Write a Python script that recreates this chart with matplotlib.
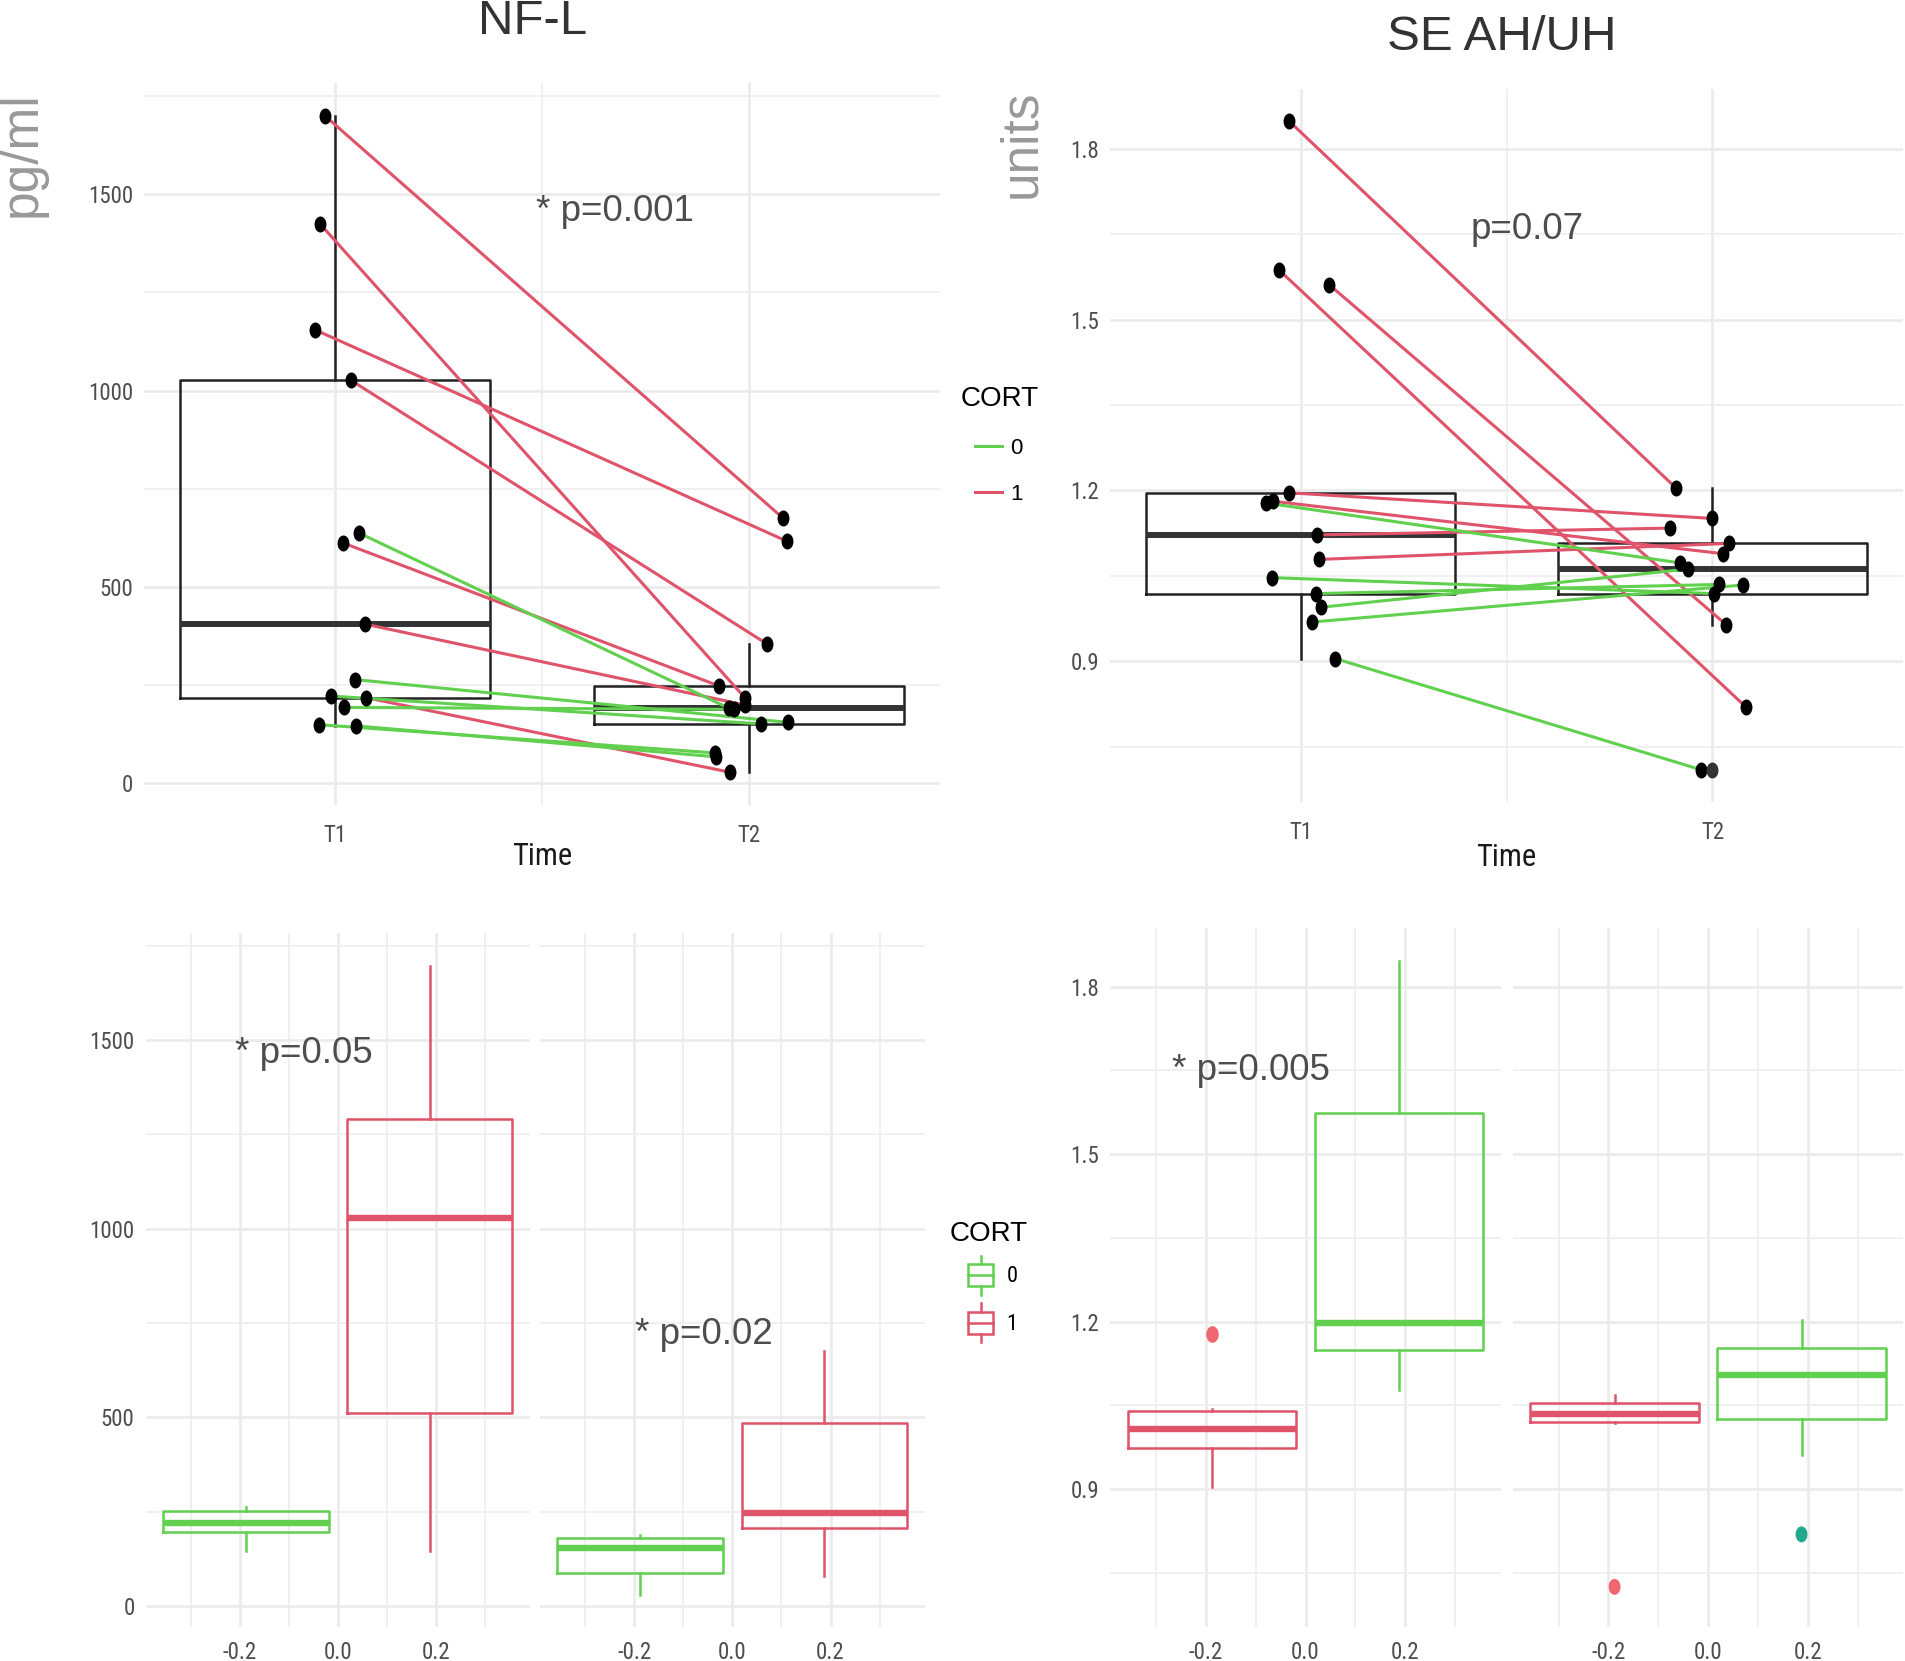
import matplotlib
matplotlib.use("Agg")
import matplotlib.pyplot as plt
from matplotlib import font_manager
from matplotlib.font_manager import FontProperties
from matplotlib.lines import Line2D
from matplotlib.patches import Patch, Rectangle
from matplotlib.legend_handler import HandlerBase
from matplotlib.path import Path

# ---------------- data ----------------
cort = [1, 1, 1, 1, 1, 1, 1, 0, 0, 0, 0, 0, 0]

# NF-L (pg/ml), paired T1 -> T2, x = jittered time position
nfl_t1 = [1700, 1425, 1155, 1027, 612, 405, 218, 637, 264, 222, 193, 149, 146]
nfl_t1_x = [0.975, 0.963, 0.951, 1.037, 1.019, 1.073, 1.074, 1.058, 1.047, 0.990, 1.020, 0.961, 1.050]
nfl_t2 = [675, 216, 616, 354, 248, 199, 28, 191, 155, 151, 188, 77, 67]
nfl_t2_x = [2.083, 1.992, 2.093, 2.045, 1.927, 1.992, 1.954, 1.952, 2.094, 2.030, 1.964, 1.919, 1.922]

# SE AH/UH (units)
se_t1 = [1.848, 1.587, 1.561, 1.196, 1.181, 1.122, 1.079, 1.178, 1.047, 1.019, 0.995, 0.969, 0.905]
se_t1_x = [0.973, 0.948, 1.070, 0.971, 0.934, 1.041, 1.045, 0.917, 0.930, 1.037, 1.050, 1.027, 1.084]
se_t2 = [1.204, 0.820, 0.964, 1.151, 1.089, 1.134, 1.107, 1.073, 1.019, 1.035, 1.062, 1.034, 0.710]
se_t2_x = [1.912, 2.081, 2.034, 1.998, 2.026, 1.898, 2.040, 1.920, 2.004, 2.016, 1.940, 2.073, 1.971]
se_extra_x = [1.998]
se_extra_y = [0.710]

# group boxplots: whislo, q1, med, q3, whishi
nfl_t1_cort0 = [146, 196, 221, 252, 262]
nfl_t1_cort1 = [145, 511, 1027, 1291, 1697]
nfl_t2_cort0 = [28, 87, 153, 181, 189]
nfl_t2_cort1 = [79, 206, 246, 486, 675]
se_t1_cort1 = [0.904, 0.973, 1.007, 1.040, 1.044]
se_t1_cort0 = [1.078, 1.150, 1.198, 1.574, 1.846]
se_t2_cort1 = [1.019, 1.021, 1.034, 1.055, 1.069]
se_t2_cort0 = [0.962, 1.025, 1.105, 1.152, 1.202]
se_t1_out_x = [-0.1875]
se_t1_out_y = [1.178]
se_t2_out_x = [-0.1875, 0.1875]
se_t2_out_y = [0.725, 0.819]

GREEN = "#61D04F"
RED = "#DF536B"
col = {0: GREEN, 1: RED}


def pick_condensed():
    best = None
    for f in font_manager.fontManager.ttflist:
        n = f.name
        cond = ("Narrow" in n) or ("Condensed" in n) or (str(f.stretch) in ("condensed", "semi-condensed", "extra-condensed"))
        if not cond or f.style != "normal" or f.weight not in (400, "normal", "regular", "book"):
            continue
        if "Mono" in n or "Serif" in n:
            continue
        rank = 0 if "Liberation" in n else 1 if "Roboto" in n else 2 if "Open Sans" in n else 3 if "Noto Sans" in n else 4
        if best is None or rank < best[0]:
            best = (rank, f.fname)
    return best[1] if best else None


cond_file = pick_condensed()
SANS = ["Liberation Sans", "DejaVu Sans"]
plt.rcParams["font.family"] = SANS


def nfont(size):
    if cond_file:
        return FontProperties(fname=cond_file, size=size)
    return FontProperties(family=SANS, size=size * 0.92)


TICK = nfont(16.5)

W, H = 1905, 1661
fig = plt.figure(figsize=(W / 100, H / 100), dpi=100)

uc = Path.unit_circle()
ell = Path(uc.vertices * [0.72, 1.0], uc.codes)


def add_ax(l, t, r, b):
    return fig.add_axes([l / W, 1 - b / H, (r - l) / W, (b - t) / H])


def style(ax, xmaj, xmin, ymaj, ymin, xlabs, ylabs, xpad, ypad):
    for s in ax.spines.values():
        s.set_visible(False)
    ax.set_xticks(xmaj)
    ax.set_xticks(xmin, minor=True)
    ax.set_yticks(ymaj)
    ax.set_yticks(ymin, minor=True)
    ax.set_xticklabels(xlabs, fontproperties=TICK, color="#4D4D4D")
    ax.set_yticklabels(ylabs, fontproperties=TICK, color="#4D4D4D")
    ax.grid(which="major", color="#EBEBEB", lw=1.9)
    ax.grid(which="minor", color="#EEEEEE", lw=1.2)
    ax.set_axisbelow(True)
    ax.tick_params(which="both", length=0)
    ax.tick_params(axis="x", pad=xpad)
    ax.tick_params(axis="y", pad=ypad)


def paired(ax, t1, t1x, t2, t2x, ylim, ymaj, ymin, ylabfmt, top, bottom):
    ax.set_xlim(0.5375, 2.4625)
    ax.set_ylim(*ylim)
    ax.boxplot([t1, t2], positions=[1, 2], widths=0.75, showfliers=False,
               showcaps=False, manage_ticks=False,
               boxprops=dict(color="#222222", lw=1.8),
               whiskerprops=dict(color="#222222", lw=1.8),
               medianprops=dict(color="#333333", lw=4.3))
    for a, ax1, b, bx, c in zip(t1, t1x, t2, t2x, cort):
        ax.plot([ax1, bx], [a, b], color=col[c], lw=2.2, zorder=3)
    ax.plot(t1x, t1, ls="none", marker=ell, ms=10.5, color="black", zorder=4)
    ax.plot(t2x, t2, ls="none", marker=ell, ms=10.5, color="black", zorder=4)
    style(ax, [1, 2], [1.5], ymaj, ymin, ["T1", "T2"], [ylabfmt(v) for v in ymaj], 13.5, 8)
    ax.set_xlabel("Time", fontproperties=nfont(22), color="#1A1A1A", va="center")
    ax.xaxis.set_label_coords(0.5, (bottom - 857) / (bottom - top))


def facet(ax, stats, colors, ylim, ymaj, ymin, ylabfmt, show_y):
    ax.set_xlim(-0.3919, 0.3919)
    ax.set_ylim(*ylim)
    for st, pos, c in zip(stats, [-0.1875, 0.1875], colors):
        d = dict(zip(["whislo", "q1", "med", "q3", "whishi"], st))
        ax.bxp([d], positions=[pos], widths=0.3375, showfliers=False, showcaps=False,
               manage_ticks=False,
               boxprops=dict(color=c, lw=1.8), whiskerprops=dict(color=c, lw=1.8),
               medianprops=dict(color=c, lw=4.6))
    ylabs = [ylabfmt(v) for v in ymaj] if show_y else [""] * len(ymaj)
    style(ax, [-0.2, 0.0, 0.2], [-0.3, -0.1, 0.1, 0.3], ymaj, ymin, ["-0.2", "0.0", "0.2"], ylabs, 10, 8)


ptxt = dict(fontsize=26.5, color="#4D4D4D", ha="center", va="center", family=SANS)

nfl_lo, nfl_hi = min(nfl_t2), max(nfl_t1)
nfl_lim = (nfl_lo - 0.05 * (nfl_hi - nfl_lo), nfl_hi + 0.05 * (nfl_hi - nfl_lo))
se_lo, se_hi = min(se_t2), max(se_t1)
se_lim = (se_lo - 0.05 * (se_hi - se_lo), se_hi + 0.05 * (se_hi - se_lo))

nfl_maj = [0, 500, 1000, 1500]
nfl_min = [250, 750, 1250, 1750]
se_maj = [0.9, 1.2, 1.5, 1.8]
se_min = [0.75, 1.05, 1.35, 1.65]
fmt_i = lambda v: f"{v:d}"
fmt_f = lambda v: f"{v:.1f}"

# top-left
ax = add_ax(144, 83, 940, 805)
paired(ax, nfl_t1, nfl_t1_x, nfl_t2, nfl_t2_x, nfl_lim, nfl_maj, nfl_min, fmt_i, 83, 805)
ax.text(1.677, 1456, "* p=0.001", **ptxt)

# top-right
ax = add_ax(1110, 89, 1903, 802)
paired(ax, se_t1, se_t1_x, se_t2, se_t2_x, se_lim, se_maj, se_min, fmt_f, 89, 802)
ax.plot(se_extra_x, se_extra_y, ls="none", marker=ell, ms=10.5, color="#333333", zorder=4)
ax.text(1.549, 1.659, "p=0.07", **ptxt)

# bottom-left facets
ax = add_ax(145.7, 933, 529.7, 1627)
facet(ax, [nfl_t1_cort0, nfl_t1_cort1], [GREEN, RED], nfl_lim, nfl_maj, nfl_min, fmt_i, True)
ax.text(-0.069, 1465, "* p=0.05", **ptxt)
ax = add_ax(540, 933, 924.7, 1627)
facet(ax, [nfl_t2_cort0, nfl_t2_cort1], [GREEN, RED], nfl_lim, nfl_maj, nfl_min, fmt_i, False)
ax.text(-0.059, 719, "* p=0.02", **ptxt)

# bottom-right facets
ax = add_ax(1110, 928, 1501, 1627)
facet(ax, [se_t1_cort1, se_t1_cort0], [RED, GREEN], se_lim, se_maj, se_min, fmt_f, True)
ax.plot(se_t1_out_x, se_t1_out_y, ls="none", marker=ell, ms=11, color="#EF6670", zorder=4)
ax.text(-0.11, 1.649, "* p=0.005", **ptxt)
ax = add_ax(1512.7, 928, 1903.4, 1627)
facet(ax, [se_t2_cort1, se_t2_cort0], [RED, GREEN], se_lim, se_maj, se_min, fmt_f, False)
ax.scatter(se_t2_out_x, se_t2_out_y, marker=ell, s=110, c=["#EF6670", "#22A88E"], zorder=4)

# titles and y labels
fig.text(533 / W, 1 - 22 / H, "NF-L", ha="center", va="center", fontsize=35.5, color="#333333")
fig.text(1501.6 / W, 1 - 37 / H, "SE AH/UH", ha="center", va="center", fontsize=35.5, color="#333333")
fig.text(22 / W, 1 - 91 / H, "pg/ml", rotation=90, ha="center", va="top", fontsize=37, color="#999999")
fig.text(1021.5 / W, 1 - 89 / H, "units", rotation=90, ha="center", va="top", fontsize=37, color="#999999")


# legends
class LineKey(HandlerBase):
    def __init__(self, offset):
        super().__init__()
        self.offset = offset

    def create_artists(self, legend, orig_handle, xdescent, ydescent, width, height, fontsize, trans):
        x0 = -xdescent + self.offset * width
        y = -ydescent + height / 2
        return [Line2D([x0, -xdescent + width], [y, y], color=orig_handle.get_color(),
                       lw=orig_handle.get_linewidth(), transform=trans)]


class BoxKey(HandlerBase):
    def __init__(self, offset):
        super().__init__()
        self.offset = offset

    def create_artists(self, legend, orig_handle, xdescent, ydescent, width, height, fontsize, trans):
        c = orig_handle.get_edgecolor()
        x0 = -xdescent + self.offset * width
        bw = -xdescent + width - x0
        y0 = -ydescent
        th = height
        bh = th * 0.56
        by = y0 + (th - bh) / 2
        xm = x0 + bw / 2
        rect = Rectangle((x0, by), bw, bh, facecolor="white", edgecolor=c, lw=1.8, transform=trans)
        med = Line2D([x0, x0 + bw], [y0 + th / 2] * 2, color=c, lw=1.8, transform=trans)
        wt = Line2D([xm, xm], [by + bh, y0 + th], color=c, lw=1.8, transform=trans)
        wb = Line2D([xm, xm], [y0, by], color=c, lw=1.8, transform=trans)
        return [rect, med, wt, wb]


h_lines = [Line2D([], [], color=GREEN, lw=2.2), Line2D([], [], color=RED, lw=2.2)]
leg1 = fig.legend(handles=h_lines, labels=["0", "1"], title="CORT", loc="upper left",
                  bbox_to_anchor=(961 / W, 1 - 386 / H), frameon=False, borderpad=0, borderaxespad=0,
                  fontsize=16, title_fontsize=20, handlelength=1.83, handletextpad=0.37,
                  labelspacing=1.15, alignment="left",
                  handler_map={h: LineKey(0.34) for h in h_lines})

h_boxes = [Patch(edgecolor=GREEN, facecolor="white"), Patch(edgecolor=RED, facecolor="white")]
leg2 = fig.legend(handles=h_boxes, labels=["0", "1"], title="CORT", loc="upper left",
                  bbox_to_anchor=(950 / W, 1 - 1221 / H), frameon=False, borderpad=0, borderaxespad=0,
                  fontsize=16, title_fontsize=20, handlelength=1.95, handleheight=2.3, handletextpad=0.6,
                  labelspacing=0.4, alignment="left", handler_map={Patch: BoxKey(0.41)})
for t in leg2.get_texts():
    t.set_fontproperties(nfont(16))

fig.savefig("out.png", dpi=100, facecolor="white")
